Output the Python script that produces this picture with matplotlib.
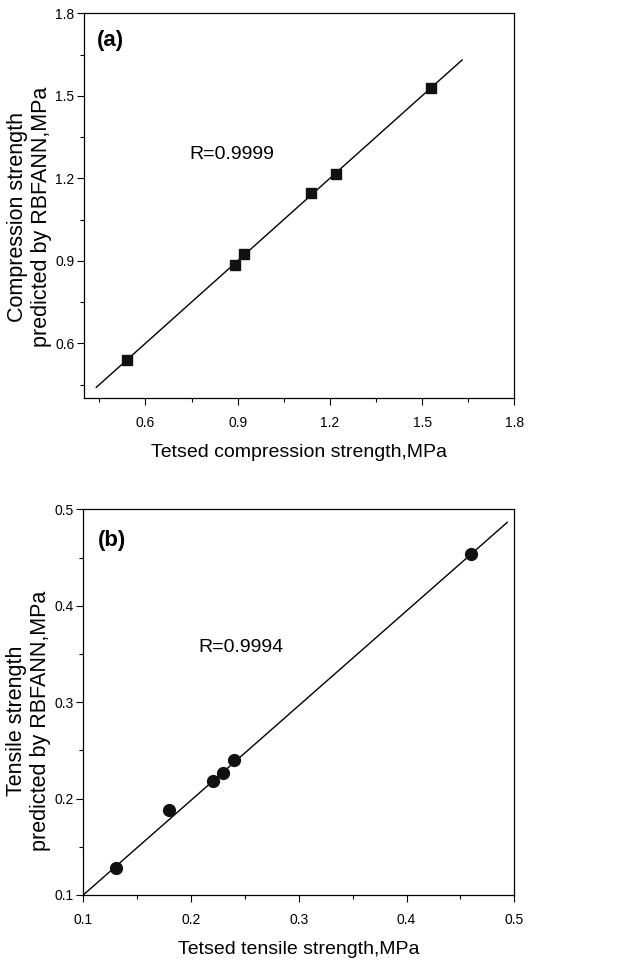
import matplotlib
matplotlib.use("Agg")
import matplotlib.pyplot as plt
from matplotlib.ticker import MultipleLocator
import numpy as np

plt.rcParams['font.family'] = ['Liberation Sans', 'DejaVu Sans']

# Panel (a): compression strength
comp_tested = [0.54, 0.89, 0.92, 1.14, 1.22, 1.53]
comp_pred = [0.541, 0.885, 0.924, 1.147, 1.215, 1.53]
comp_line_x = [0.44, 1.63]
comp_line_y = [0.44, 1.63]
comp_R = "R=0.9999"

# Panel (b): tensile strength
tens_tested = [0.13, 0.18, 0.22, 0.23, 0.24, 0.46]
tens_pred = [0.128, 0.188, 0.218, 0.226, 0.240, 0.454]
tens_line_x = [0.1, 0.4935]
tens_line_y = [0.1, 0.4865]
tens_R = "R=0.9994"

fig = plt.figure(figsize=(6.3, 9.61), dpi=100)
axa = fig.add_axes([0.1333, 0.5855, 0.6831, 0.4007])
axb = fig.add_axes([0.1322, 0.0687, 0.6841, 0.4013])

def style(ax):
    for s in ax.spines.values():
        s.set_linewidth(0.9)
    ax.tick_params(which='major', direction='out', length=5, width=0.8, labelsize=10)
    ax.tick_params(axis='x', which='major', pad=8)
    ax.tick_params(axis='y', which='major', pad=2)
    ax.tick_params(which='minor', direction='out', length=3, width=0.8)
    ax.tick_params(top=False, right=False)

# (a)
axa.plot(comp_line_x, comp_line_y, color='black', lw=1.0)
axa.plot(comp_tested, comp_pred, 's', color='#111111', ms=7.5, mec='#111111')
axa.set_xlim(0.4, 1.8)
axa.set_ylim(0.4, 1.8)
axa.set_xticks([0.6, 0.9, 1.2, 1.5, 1.8])
axa.set_yticks([0.6, 0.9, 1.2, 1.5, 1.8])
axa.xaxis.set_minor_locator(MultipleLocator(0.15))
axa.yaxis.set_minor_locator(MultipleLocator(0.15))
style(axa)
axa.set_xlabel("Tetsed compression strength,MPa", fontsize=14, labelpad=10)
axa.set_ylabel("Compression strength\npredicted by RBFANN,MPa", fontsize=15.5, labelpad=2, linespacing=1.2)
axa.yaxis.label.set_y(0.47)
axa.text(0.03, 0.93, "(a)", transform=axa.transAxes, fontsize=16, fontweight='bold', va='center', ha='left')
axa.text(0.245, 0.634, comp_R, transform=axa.transAxes, fontsize=14, va='center', ha='left')

# (b)
axb.plot(tens_line_x, tens_line_y, color='black', lw=1.0)
axb.plot(tens_tested, tens_pred, 'o', color='#111111', ms=8.5, mec='#111111')
axb.set_xlim(0.1, 0.5)
axb.set_ylim(0.1, 0.5)
axb.set_xticks([0.1, 0.2, 0.3, 0.4, 0.5])
axb.set_yticks([0.1, 0.2, 0.3, 0.4, 0.5])
axb.xaxis.set_minor_locator(MultipleLocator(0.05))
axb.yaxis.set_minor_locator(MultipleLocator(0.05))
style(axb)
axb.set_xlabel("Tetsed tensile strength,MPa", fontsize=14, labelpad=10)
axb.set_ylabel("Tensile strength\npredicted by RBFANN,MPa", fontsize=15.5, labelpad=2, linespacing=1.2)
axb.yaxis.label.set_y(0.452)
axb.text(0.035, 0.92, "(b)", transform=axb.transAxes, fontsize=16, fontweight='bold', va='center', ha='left')
axb.text(0.268, 0.642, tens_R, transform=axb.transAxes, fontsize=14, va='center', ha='left')

fig.savefig("out.png", dpi=100)
